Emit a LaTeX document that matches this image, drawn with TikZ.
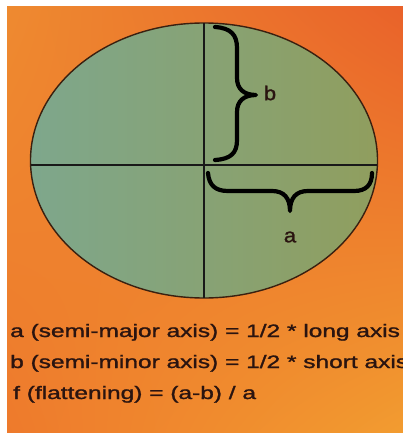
\documentclass[tikz,border=0pt]{standalone}
\usepackage{fontspec}
\setmainfont{Liberation Sans}
\newfontfamily\heavysans{Liberation Sans}[FakeBold=1.2]
\usepackage{graphicx}
\usetikzlibrary{shadings}
\definecolor{bgUL}{HTML}{EE8A30}
\definecolor{bgUR}{HTML}{E9622A}
\definecolor{bgLL}{HTML}{EE7A2C}
\definecolor{bgLR}{HTML}{F29C30}
\definecolor{ellL}{HTML}{7EA78C}
\definecolor{ellR}{HTML}{909E5E}
\definecolor{ellEdge}{HTML}{3A2010}
\definecolor{ink}{HTML}{2A1410}
\tikzset{
  axisline/.style={line width=2.8pt, draw=black!90},
  bracepath/.style={line width=4.2pt, draw=black, line cap=round, line join=round},
  lbl/.style={font=\heavysans\fontsize{20}{22}\selectfont, text=ink, inner sep=0pt},
  txt/.style={font=\heavysans\fontsize{18}{20}\selectfont, text=ink, inner sep=0pt, anchor=base west}
}
\begin{document}
\begin{tikzpicture}[x=1pt,y=-1pt]
\useasboundingbox (0,0) rectangle (403,433);
\fill[white] (0,0) rectangle (403,433);
\shade[upper left=bgUL, upper right=bgUR, lower left=bgLL, lower right=bgLR] (7,7) rectangle (403,433);
% ellipse
\shade[left color=ellL, right color=ellR, draw=ellEdge, line width=1.4pt] (204,160.5) ellipse [x radius=173.5, y radius=137.5];
\coordinate (L) at (30.8,165);
\coordinate (R) at (377.2,165);
\coordinate (T) at (204,23);
\coordinate (B) at (204,298);
\draw[axisline] (L) -- (R);
\draw[axisline] (T) -- (B);
% brace b
\draw[bracepath] (215,27) .. controls (231,28) and (237,35) .. (237,48) -- (237,78)
  .. controls (237,89) and (244,95) .. (256,95)
  .. controls (244,95) and (237,101) .. (237,112) -- (237,140)
  .. controls (237,153) and (231,159) .. (215,160);
\node[lbl] (lb) at (270,93) {\scalebox{1.1}[1]{b}};
% brace a
\draw[bracepath] (208,173) .. controls (209,185) and (215,191) .. (228,191) -- (272,191)
  .. controls (284,191) and (290,198) .. (290,211)
  .. controls (290,198) and (296,191) .. (308,191) -- (354,191)
  .. controls (366,191) and (372,185) .. (372,173);
\node[lbl] (la) at (290,237) {\scalebox{1.1}[1]{a}};
% text
\node[txt] (t1) at (10,337) {\scalebox{1.36}[1]{a (semi-major axis) = 1/2 * long axis}};
\node[txt] (t2) at (10,368) {\scalebox{1.36}[1]{b (semi-minor axis) = 1/2 * short axis}};
\node[txt] (t3) at (13,399) {\scalebox{1.36}[1]{f (flattening) = (a-b) / a}};
\end{tikzpicture}
\end{document}
